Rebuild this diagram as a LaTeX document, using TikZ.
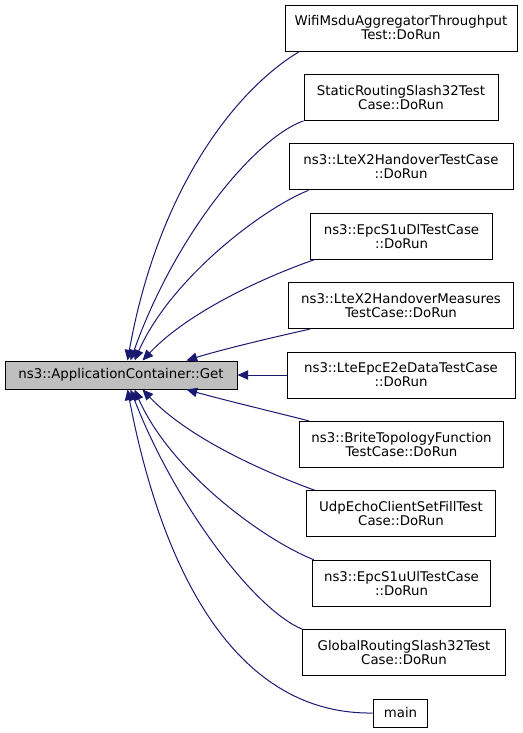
\documentclass[tikz,border=0pt]{standalone}
\usepackage{fontspec}
\setmainfont{DejaVu Sans}
\usetikzlibrary{arrows.meta,calc}
\definecolor{edgeblue}{HTML}{191970}
\definecolor{mainfill}{HTML}{BFBFBF}
\begin{document}
\begin{tikzpicture}[x=0.75pt,y=-0.75pt,
  box/.style={draw=black,line width=0.75pt,fill=white,align=center,inner sep=0pt,
    minimum height=34.5pt,font=\fontsize{10pt}{10.5pt}\selectfont},
  mainbox/.style={box,fill=mainfill,minimum height=21pt},
  onebox/.style={box,minimum height=21pt},
  edge/.style={draw=edgeblue,line width=0.75pt,-{Triangle[length=8pt,width=7pt]}}]
\useasboundingbox (0,0) rectangle (523,733);
\node[mainbox,minimum width=174pt] (main) at (121,375) {ns3::ApplicationContainer::Get};
\node[box,minimum width=174pt] (c1) at (401,28) {WifiMsduAggregatorThroughput\\Test::DoRun};
\node[box,minimum width=145.5pt] (c2) at (401,97.4) {StaticRoutingSlash32Test\\Case::DoRun};
\node[box,minimum width=168pt] (c3) at (401,166.8) {ns3::LteX2HandoverTestCase\\::DoRun};
\node[box,minimum width=136pt] (c4) at (401.5,236.2) {ns3::EpcS1uDlTestCase\\::DoRun};
\node[box,minimum width=169pt] (c5) at (401,305.6) {ns3::LteX2HandoverMeasures\\TestCase::DoRun};
\node[box,minimum width=171pt] (c6) at (401,375) {ns3::LteEpcE2eDataTestCase\\::DoRun};
\node[box,minimum width=153pt] (c7) at (401.5,444.4) {ns3::BriteTopologyFunction\\TestCase::DoRun};
\node[box,minimum width=142pt] (c8) at (401,513.8) {UdpEchoClientSetFillTest\\Case::DoRun};
\node[box,minimum width=134pt] (c9) at (401.5,583.2) {ns3::EpcS1uUlTestCase\\::DoRun};
\node[box,minimum width=152pt] (c10) at (404,652.6) {GlobalRoutingSlash32Test\\Case::DoRun};
\node[onebox,minimum width=41pt] (c11) at (400.5,713) {main};
% edges
\draw[edge] ($(c1.south west)+(15,0)$) .. controls (235,90) and (158,190) .. ($(main.north west)+(123,0)$);
\draw[edge] ($(c2.south west)+(0,0)$) .. controls (255,138) and (175,235) .. ($(main.north west)+(126,0)$);
\draw[edge] ($(c3.south west)+(20,0)$) .. controls (260,210) and (170,280) .. ($(main.north west)+(130,0)$);
\draw[edge] ($(c4.south west)+(4,0)$) .. controls (270,275) and (190,310) .. ($(main.north west)+(138,0)$);
\draw[edge] ($(c5.south west)+(22,0)$) .. controls (270,338) and (220,350) .. ($(main.north west)+(182,0)$);
\draw[edge] (c6.west) -- (main.east);
\draw[edge] ($(c7.north west)+(10,0)$) .. controls (270,411) and (220,399) .. ($(main.south west)+(182,0)$);
\draw[edge] ($(c8.north west)+(9,0)$) .. controls (270,474) and (190,440) .. ($(main.south west)+(138,0)$);
\draw[edge] ($(c9.north west)+(2,0)$) .. controls (260,538) and (170,470) .. ($(main.south west)+(130,0)$);
\draw[edge] ($(c10.north west)+(0,0)$) .. controls (255,610) and (175,505) .. ($(main.south west)+(126,0)$);
\draw[edge] (c11.west) .. controls (230,715) and (160,560) .. ($(main.south west)+(123,0)$);
\end{tikzpicture}
\end{document}
